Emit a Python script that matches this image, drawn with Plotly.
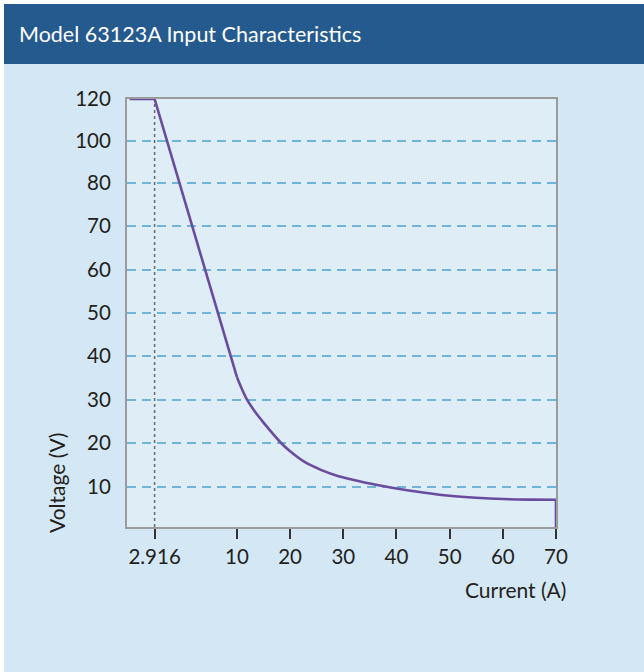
import numpy as np
import plotly.graph_objects as go

# leitura da curva (corrente em A, tensão em V)
corrente_reta = [0, 2.916, 10]
tensao_reta = [120, 120, 35.2]

corrente_curva = [10, 11, 11.9, 13.4, 15, 18.3, 20, 22.8, 25.9, 29.1, 32.2, 35, 40, 45, 50, 55, 60, 65, 70]
tensao_curva = [35.2, 32.3, 30, 27.2, 24.7, 20, 18.1, 15.6, 13.8, 12.4, 11.5, 10.75, 9.55, 8.55, 7.75, 7.25, 6.93, 6.8, 6.75]

corrente_queda = [70, 70]
tensao_queda = [6.75, 0]

corrente_limite = 2.916

# eixos não lineares: valor -> posição no gráfico
x_ticks = [2.916, 10, 20, 30, 40, 50, 60, 70]
x_ticktext = ['2.916', '10', '20', '30', '40', '50', '60', '70']
x_escala_val = [0, 2.916, 10, 20, 30, 40, 50, 60, 70]
x_escala_pos = [0, 25, 107.4, 160.6, 213.8, 267, 320.2, 373.4, 426.6]

y_ticks = [10, 20, 30, 40, 50, 60, 70, 80, 100, 120]
y_ticktext = ['10', '20', '30', '40', '50', '60', '70', '80', '100', '120']
y_escala_val = [0, 10, 20, 30, 40, 50, 60, 70, 80, 100, 120]
y_escala_pos = [0, 40.3, 84, 127.3, 170.7, 213.7, 257.3, 301, 344.3, 386.5, 428]


def xpos(v):
    return np.interp(v, x_escala_val, x_escala_pos)


def ypos(v):
    return np.interp(v, y_escala_val, y_escala_pos)


ROXO = '#6a4c9f'
FONTE = 'Lato'
TEXTO = '#231f20'

fig = go.Figure()

# linha pontilhada em 2.916 A
fig.add_trace(go.Scatter(x=xpos([corrente_limite, corrente_limite]), y=ypos([0, 120]),
                         mode='lines', line=dict(color='#6b6b6b', width=1.5, dash='dot'),
                         hoverinfo='skip', cliponaxis=False))

fig.add_trace(go.Scatter(x=xpos(corrente_reta), y=ypos(tensao_reta), mode='lines',
                         line=dict(color=ROXO, width=2.6), cliponaxis=False))
fig.add_trace(go.Scatter(x=xpos(corrente_curva), y=ypos(tensao_curva), mode='lines',
                         line=dict(color=ROXO, width=2.6, shape='spline', smoothing=0.8),
                         cliponaxis=False))
fig.add_trace(go.Scatter(x=xpos(corrente_queda), y=ypos(tensao_queda), mode='lines',
                         line=dict(color=ROXO, width=2.6), cliponaxis=False))

# geometria em px da janela
L, R, T, B = 127, 556, 99, 527
W, H = R - L, B - T


def px(x):
    return (x - L) / W


def py(y):
    return (B - y) / H


shapes = [
    # faixa do título
    dict(type='rect', xref='paper', yref='paper', x0=px(4), x1=px(650), y0=py(64), y1=py(4),
         fillcolor='#255a8e', line=dict(width=0)),
    # bordas brancas
    dict(type='rect', xref='paper', yref='paper', x0=px(-5), x1=px(650), y0=py(4), y1=py(-5),
         fillcolor='white', line=dict(width=0)),
    dict(type='rect', xref='paper', yref='paper', x0=px(-5), x1=px(4), y0=py(680), y1=py(-5),
         fillcolor='white', line=dict(width=0)),
]

annotations = [
    dict(text='Model 63123A Input Characteristics', xref='paper', yref='paper',
         x=px(17), y=py(34), xanchor='left', yanchor='middle', showarrow=False,
         font=dict(family=FONTE, size=21.5, color='white')),
    dict(text='Voltage (V)', xref='paper', yref='paper', x=px(56), y=py(483),
         xanchor='center', yanchor='middle', textangle=-90, showarrow=False,
         font=dict(family=FONTE, size=21, color=TEXTO)),
    dict(text='Current (A)', xref='paper', yref='paper', x=px(568), y=py(589),
         xanchor='right', yanchor='middle', showarrow=False,
         font=dict(family=FONTE, size=21, color=TEXTO)),
]

fig.update_layout(
    width=644, height=672,
    margin=dict(l=L, r=644 - R, t=T, b=672 - B),
    paper_bgcolor='#d4e7f4',
    plot_bgcolor='#dfedf7',
    showlegend=False,
    shapes=shapes,
    annotations=annotations,
    font=dict(family=FONTE, size=20.5, color=TEXTO),
)

fig.update_xaxes(
    range=[-2.6, 426.6], tickvals=xpos(x_ticks), ticktext=x_ticktext,
    showgrid=False, zeroline=False, showline=True, mirror=True,
    linecolor='#9b9b9b', linewidth=2, layer='below traces',
    ticks='outside', ticklen=10, tickwidth=1.5, tickcolor='#333333',
    tickfont=dict(family=FONTE, size=20.5, color=TEXTO),
)
fig.update_yaxes(
    range=[0, 428], tickvals=ypos(y_ticks), ticktext=y_ticktext,
    showgrid=True, gridcolor='#6fb4d9', gridwidth=1.6, griddash='9px,6px',
    zeroline=False, showline=True, mirror=True,
    linecolor='#9b9b9b', linewidth=2, layer='below traces',
    ticks='', ticklabelstandoff=10,
    tickfont=dict(family=FONTE, size=20.5, color=TEXTO),
)

# a página tem margem padrão de 8px no body; zera para alinhar com a janela
fig.write_html('out.html', config={'displayModeBar': False},
               post_script="document.body.style.margin='0px';")
